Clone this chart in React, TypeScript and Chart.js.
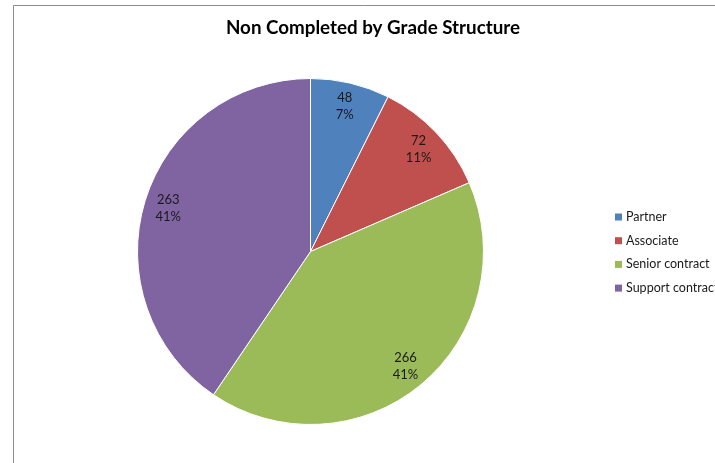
import React, { useEffect, useRef } from "react";
import { Chart, registerables } from "chart.js";

Chart.register(...registerables);

const TITLE = "Non Completed by Grade Structure";
const categories = ["Partner", "Associate", "Senior contract", "Support contract"];
const values = [48, 72, 266, 263];
const colors = ["#4F81BD", "#C0504D", "#9BBB59", "#8064A2"];

const FONT = "Lato, 'Open Sans', sans-serif";

const framePlugin = {
  id: "frame",
  beforeDraw(chart: any) {
    const ctx = chart.ctx;
    ctx.save();
    ctx.fillStyle = "#ffffff";
    ctx.fillRect(0, 0, chart.width, chart.height);
    ctx.strokeStyle = "#8c8c8c";
    ctx.lineWidth = 1;
    ctx.beginPath();
    ctx.moveTo(13.5, chart.height);
    ctx.lineTo(13.5, 5.5);
    ctx.lineTo(chart.width, 5.5);
    ctx.stroke();
    ctx.restore();
  },
};

const titlePlugin = {
  id: "customTitle",
  afterDraw(chart: any) {
    const ctx = chart.ctx;
    ctx.save();
    ctx.font = `bold 18.8px ${FONT}`;
    ctx.fillStyle = "#000000";
    ctx.textAlign = "center";
    ctx.textBaseline = "alphabetic";
    ctx.fillText(TITLE, 373, 34);
    ctx.restore();
  },
};

const legendPlugin = {
  id: "customLegend",
  afterDraw(chart: any) {
    const ctx = chart.ctx;
    ctx.save();
    ctx.font = `12.5px ${FONT}`;
    ctx.textBaseline = "middle";
    ctx.textAlign = "left";
    const x = 615;
    const y0 = 217;
    const step = 23.7;
    categories.forEach((c, i) => {
      const y = y0 + i * step;
      ctx.fillStyle = colors[i];
      ctx.fillRect(x, y - 3.5, 7, 7);
      ctx.fillStyle = "#1a1a1a";
      ctx.fillText(c, x + 11, y);
    });
    ctx.restore();
  },
};

const labelPlugin = {
  id: "sliceLabels",
  afterDatasetsDraw(chart: any) {
    const ctx = chart.ctx;
    const meta = chart.getDatasetMeta(0);
    const total = values.reduce((a, b) => a + b, 0);
    ctx.save();
    ctx.font = `13px ${FONT}`;
    ctx.fillStyle = "#1a1a1a";
    ctx.textAlign = "center";
    ctx.textBaseline = "middle";
    meta.data.forEach((arc: any, i: number) => {
      const p = arc.getProps(["x", "y", "startAngle", "endAngle", "outerRadius"], true);
      const mid = (p.startAngle + p.endAngle) / 2;
      const r = p.outerRadius * 0.86;
      const cx = p.x + Math.cos(mid) * r;
      const cy = p.y + Math.sin(mid) * r;
      const pct = Math.round((values[i] / total) * 100) + "%";
      ctx.fillText(String(values[i]), cx, cy - 8.5);
      ctx.fillText(pct, cx, cy + 8.5);
    });
    ctx.restore();
  },
};

export default function App() {
  const ref = useRef<HTMLCanvasElement | null>(null);
  useEffect(() => {
    if (!ref.current) return;
    const chart = new Chart(ref.current, {
      type: "pie",
      data: {
        labels: categories,
        datasets: [
          {
            data: values,
            backgroundColor: colors,
            borderColor: "#ffffff",
            borderWidth: 1,
          },
        ],
      },
      options: {
        responsive: false,
        animation: false,
        devicePixelRatio: 1,
        layout: { padding: { left: 137, right: 231, top: 78, bottom: 38 } },
        plugins: {
          legend: { display: false },
          title: { display: false },
          tooltip: { enabled: false },
        },
      },
      plugins: [framePlugin, titlePlugin, legendPlugin, labelPlugin],
    });
    return () => chart.destroy();
  }, []);
  return (
    <div style={{ position: "fixed", left: 0, top: 0, width: 715, height: 463, background: "#fff" }}>
      <canvas ref={ref} width={715} height={463} style={{ display: "block", width: 715, height: 463 }} />
    </div>
  );
}
